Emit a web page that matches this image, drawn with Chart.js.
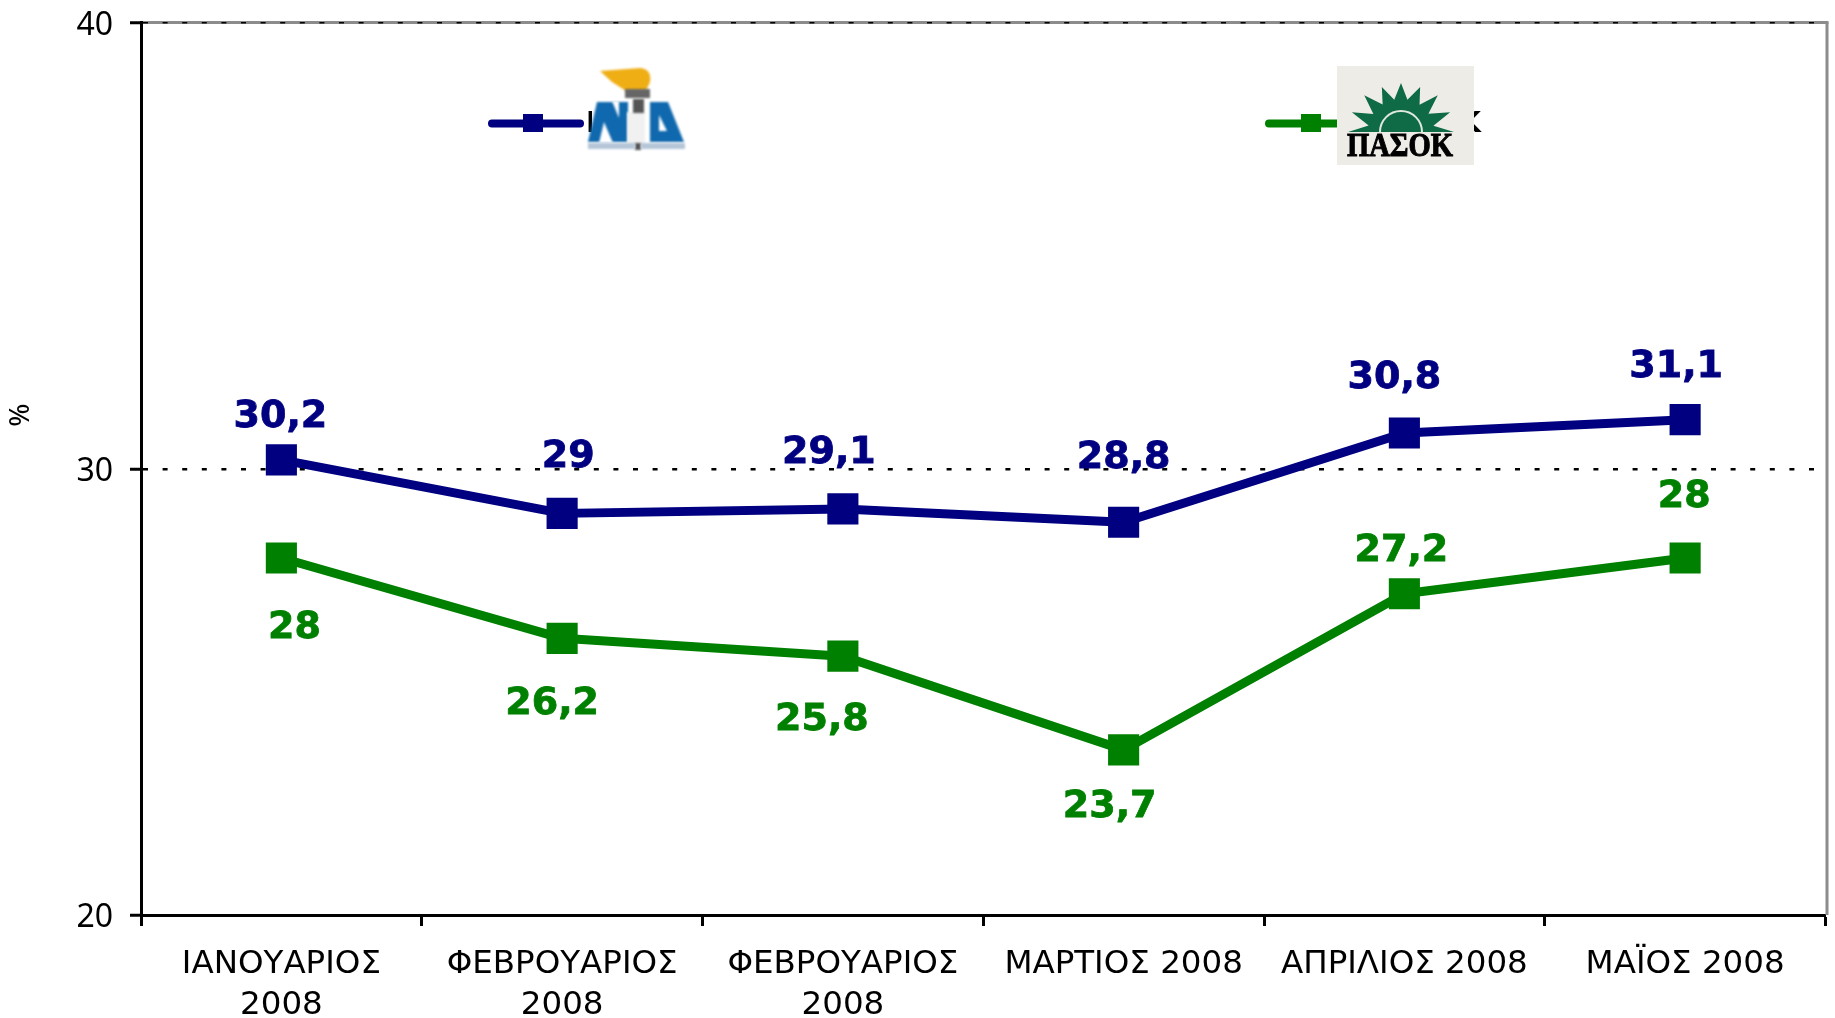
<!DOCTYPE html>
<html><head><meta charset="utf-8">
<script src="https://cdn.jsdelivr.net/npm/chart.js@4"></script>
<style>html,body{margin:0;padding:0;background:#fff}canvas{display:block}</style>
</head><body><canvas id="c" width="1835" height="1018"></canvas>
<script>
const categories=[["ΙΑΝΟΥΑΡΙΟΣ","2008"],["ΦΕΒΡΟΥΑΡΙΟΣ","2008"],["ΦΕΒΡΟΥΑΡΙΟΣ","2008"],"ΜΑΡΤΙΟΣ 2008","ΑΠΡΙΛΙΟΣ 2008","ΜΑΪΟΣ 2008"];
const ndValues=[30.2,29,29.1,28.8,30.8,31.1];
const pasokValues=[28,26.2,25.8,23.7,27.2,28];
const yTicks=[20,30,40];
const NAVY='#000080',GREEN='#008000';
const ndOffsets=[[-1,-43],[6,-56],[-14,-56],[0,-64],[-10,-55],[-9,-53]];
const pasokOffsets=[[13,70],[-10,66],[-21,64],[-14,57],[-3,-43],[-1,-61]];
const FONT='"DejaVu Sans"';
const P={left:141,right:1825.5,top:22.5,bottom:915};

const frame={id:'frame',beforeDatasetsDraw(ch){
  const c=ch.ctx;c.save();c.strokeStyle='#8c8c8c';c.lineWidth=3;
  c.beginPath();c.moveTo(P.right+1.5,P.top);c.lineTo(P.right+1.5,P.bottom);c.stroke();
  c.restore();
}};
const topLine={id:'topLine',beforeDraw(ch){
  const c=ch.ctx;c.save();c.strokeStyle='#8c8c8c';c.lineWidth=3;
  c.beginPath();c.moveTo(P.left,P.top);c.lineTo(P.right+3,P.top);c.stroke();c.restore();
}};
const valueLabels={id:'valueLabels',afterDatasetsDraw(ch){
  const c=ch.ctx;c.save();c.font='bold 38px '+FONT;c.textAlign='center';c.textBaseline='middle';c.lineWidth=0.8;
  ch.data.datasets.forEach((ds,i)=>{
    const m=ch.getDatasetMeta(i),off=i===0?ndOffsets:pasokOffsets;
    c.fillStyle=ds.borderColor;c.strokeStyle=ds.borderColor;
    m.data.forEach((p,j)=>{const t=String(ds.data[j]).replace('.',',');
      c.fillText(t,p.x+off[j][0],p.y+off[j][1]);c.strokeText(t,p.x+off[j][0],p.y+off[j][1]);});
  });
  c.restore();
}};
const annotations={id:'annotations',afterDraw(ch){
  const c=ch.ctx;c.save();
  // y axis unit
  c.save();c.translate(21,415);c.rotate(-Math.PI/2);c.font='28px "Noto Sans"';c.fillStyle='#000';c.textAlign='center';c.textBaseline='middle';c.fillText('%',0,0);c.restore();
  // legend keys
  const key=(x1,x2,mx,col)=>{c.strokeStyle=col;c.fillStyle=col;c.lineWidth=8;c.lineCap='round';
    c.beginPath();c.moveTo(x1,123.5);c.lineTo(x2,123.5);c.stroke();c.fillRect(mx-10,114,20,18);};
  key(492,580,533,NAVY);key(1269,1345,1311,GREEN);
  // legend text peeking out from behind the logos
  c.fillStyle='#000';c.font='bold 28px '+FONT;c.textBaseline='middle';
  c.textAlign='left';c.fillText('ΝΔ',586,125);
  c.textAlign='right';c.fillText('ΠΑΣΟΚ',1481,125);
  // ND logo
  c.fillStyle='#fff';c.fillRect(592,60,100,96);
  c.save();c.filter='blur(1.2px)';
  c.fillStyle='#efae14';c.beginPath();c.moveTo(600,71);c.lineTo(640,68);c.quadraticCurveTo(652,69,650,82);c.lineTo(646,91);c.lineTo(626,91);c.lineTo(612,82);c.closePath();c.fill();
  c.fillStyle='#666';c.fillRect(625,89,25,9);
  c.fillStyle='#1069ae';
  c.beginPath();c.moveTo(588,142);c.lineTo(597,102);c.lineTo(628,102);c.lineTo(628,142);c.closePath();c.fill();
  c.beginPath();c.moveTo(650,142);c.lineTo(650,102);c.lineTo(668,102);c.lineTo(684,142);c.closePath();c.fill();
  c.fillStyle='#fff';
  c.beginPath();c.moveTo(599,143);c.lineTo(604,122);c.lineTo(613,143);c.closePath();c.fill();
  c.beginPath();c.moveTo(612,101);c.lineTo(619,101);c.lineTo(619,118);c.closePath();c.fill();
  c.beginPath();c.moveTo(659,131);c.lineTo(659,115);c.lineTo(667,131);c.closePath();c.fill();
  c.fillStyle='#f1f1f1';c.fillRect(627,112,18,34);
  c.fillStyle='#555';c.fillRect(633,99,11,14);c.fillRect(635,143,6,7);
  c.fillStyle='#b4c6d8';c.fillRect(588,143,47,6);c.fillRect(641,143,44,6);
  c.restore();
  // PASOK logo
  c.fillStyle='#eeece6';c.fillRect(1337,66,137,99);
  const cx=1401,cy=132;c.fillStyle='#0f6b45';c.beginPath();
  const rays=[[-180,53],[-158,53],[-135,52],[-113,49],[-90,49],[-67,49],[-45,52],[-22,53],[0,53]];
  rays.forEach((r,i)=>{const a=r[0]*Math.PI/180;const x=cx+r[1]*Math.cos(a),y=cy+r[1]*Math.sin(a);
    if(i===0)c.moveTo(x,y);else c.lineTo(x,y);
    if(i<rays.length-1){const b=(r[0]+11.2)*Math.PI/180;c.lineTo(cx+33*Math.cos(b),cy+33*Math.sin(b));}});
  c.closePath();c.fill();
  c.strokeStyle='#dfe8dc';c.lineWidth=2;c.beginPath();c.arc(cx,cy,21,Math.PI,0);c.stroke();
  c.fillStyle='#000';c.font='bold 33px "Liberation Serif"';c.textAlign='center';c.textBaseline='middle';
  c.strokeStyle='#000';c.lineWidth=1;
  c.fillText('ΠΑΣΟΚ',1400,147,106);c.strokeText('ΠΑΣΟΚ',1400,147,106);
  c.restore();
}};

new Chart(document.getElementById('c'),{
  type:'line',
  data:{labels:categories,datasets:[
    {label:'ΝΔ',data:ndValues,borderColor:NAVY,backgroundColor:NAVY},
    {label:'ΠΑΣΟΚ',data:pasokValues,borderColor:GREEN,backgroundColor:GREEN}
  ]},
  plugins:[topLine,frame,valueLabels,annotations],
  options:{
    responsive:false,animation:false,
    layout:{autoPadding:false,padding:{left:0,top:P.top,right:1835-P.right,bottom:0}},
    plugins:{legend:{display:false},tooltip:{enabled:false}},
    elements:{
      line:{borderWidth:9,tension:0,fill:false,borderCapStyle:'round',borderJoinStyle:'round'},
      point:{pointStyle:'rect',radius:22,borderWidth:0}
    },
    scales:{
      x:{
        offset:true,
        afterFit(s){s.height=1018-P.bottom;s.paddingLeft=0;s.paddingRight=0;},
        grid:{display:true,drawOnChartArea:false,drawTicks:true,tickLength:11,tickColor:'#000',tickWidth:3,offset:true},
        border:{color:'#000',width:3},
        ticks:{color:'#000',font:{family:FONT,size:32.5,lineHeight:1.27},maxRotation:0,minRotation:0,autoSkip:false,padding:18}
      },
      y:{
        min:yTicks[0],max:yTicks[2],
        afterFit(s){s.width=P.left;s.paddingTop=0;s.paddingBottom=0;},
        afterBuildTicks(s){s.ticks=yTicks.map(v=>({value:v}));},
        grid:{color:c=>c.tick&&c.tick.value===20?'transparent':'#000',lineWidth:c=>c.tick&&c.tick.value===40?1.5:2.5,tickLength:11,tickColor:'#000',tickWidth:3},
        border:{color:'#000',width:3,dash:[5,14.6]},
        ticks:{color:'#000',font:{family:'"Noto Sans"',size:32},padding:17,labelOffset:3}
      }
    }
  }
});
</script></body></html>
